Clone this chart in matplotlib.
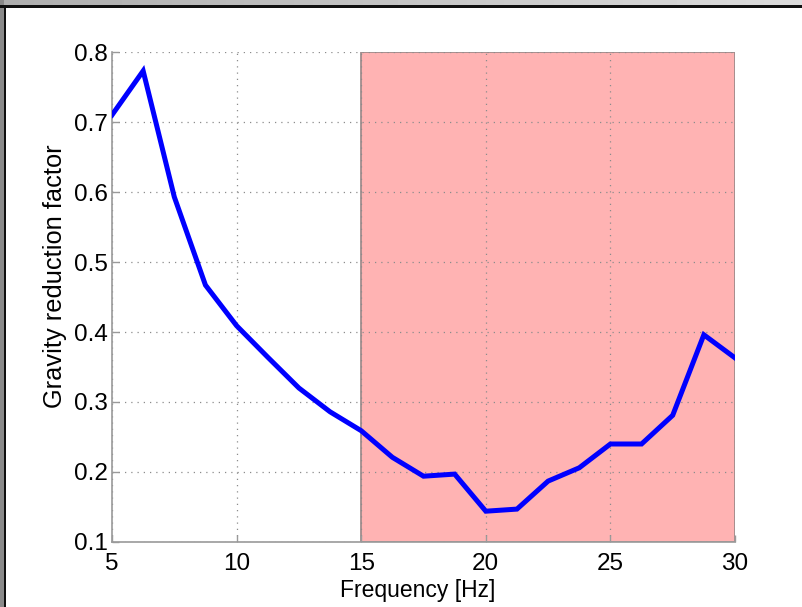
import numpy as np
import matplotlib
matplotlib.use("Agg")
import matplotlib.pyplot as plt
from matplotlib.patches import Rectangle

plt.rcParams['font.family'] = ['Liberation Sans', 'DejaVu Sans']

# Measured gravity reduction factor versus excitation frequency
frequency_hz = [5.0, 6.25, 7.5, 8.75, 10.0, 11.25, 12.5, 13.75, 15.0, 16.25,
                17.5, 18.75, 20.0, 21.25, 22.5, 23.75, 25.0, 26.25, 27.5,
                28.75, 30.0]
reduction = [0.710, 0.773, 0.593, 0.467, 0.409, 0.364, 0.320, 0.286, 0.259,
             0.221, 0.194, 0.197, 0.144, 0.147, 0.187, 0.206, 0.240, 0.240,
             0.281, 0.396, 0.363]

# Highlighted frequency band
band_hz = [15.0, 30.0]

x_ticks = [5, 10, 15, 20, 25, 30]
y_ticks = [0.1, 0.2, 0.3, 0.4, 0.5, 0.6, 0.7, 0.8]

W, H = 802, 607
fig = plt.figure(figsize=(W / 100, H / 100), dpi=100)
fig.patch.set_facecolor('white')

# Window-style frame along the top and left edges
top_ax = fig.add_axes([0, 1 - 6 / H, 1, 6 / H])
grad = np.linspace(0.68, 0.86, 256)[None, :]
top_ax.imshow(grad, cmap='gray', vmin=0, vmax=1, aspect='auto',
              extent=[0, 1, 0, 1])
top_ax.set_axis_off()
fig.add_artist(Rectangle((0, 0), 4 / W, 1, transform=fig.transFigure,
                         facecolor='#8a8a8a', edgecolor='none', zorder=5))
fig.add_artist(Rectangle((0, 1 - 7.5 / H), 1, 2 / H, transform=fig.transFigure,
                         facecolor='#101010', edgecolor='none', zorder=6))
fig.add_artist(Rectangle((4 / W, 0), 1.5 / W, 1 - 6 / H,
                         transform=fig.transFigure,
                         facecolor='#101010', edgecolor='none', zorder=6))

ax = fig.add_axes([112 / W, (H - 542) / H, (735 - 112) / W, (542 - 52) / H])

ax.axvspan(band_hz[0], band_hz[1], facecolor='#ffb3b3',
           edgecolor='#a08c8c', linewidth=1.3, zorder=1)
ax.plot(frequency_hz, reduction, color='#0000ff', linewidth=3.6,
        solid_joinstyle='miter', zorder=3)

ax.set_xlim(5, 30)
ax.set_ylim(0.1, 0.8)
ax.set_xticks(x_ticks)
ax.set_yticks(y_ticks)
ax.set_xticklabels([str(t) for t in x_ticks])
ax.set_yticklabels([f"{t:.1f}" for t in y_ticks])

ax.set_axisbelow('line')
ax.grid(True, linestyle=(0, (1, 4)), color='#8c8c8c', linewidth=0.9)

for side in ('top', 'right'):
    ax.spines[side].set_visible(False)
for side in ('left', 'bottom'):
    ax.spines[side].set_color('#9a9a9a')
    ax.spines[side].set_linewidth(1.2)

ax.tick_params(axis='both', direction='in', length=5, width=1,
               color='#9a9a9a', labelsize=17.5, labelcolor='black')
ax.tick_params(axis='x', pad=8)
ax.tick_params(axis='y', pad=3)

ax.set_xlabel('Frequency [Hz]', fontsize=16.5)
ax.set_ylabel('Gravity reduction factor', fontsize=18.3)
ax.xaxis.set_label_coords(0.490, -0.076)
ax.yaxis.set_label_coords(-0.073, 0.542)

fig.savefig('out.png', dpi=100)
